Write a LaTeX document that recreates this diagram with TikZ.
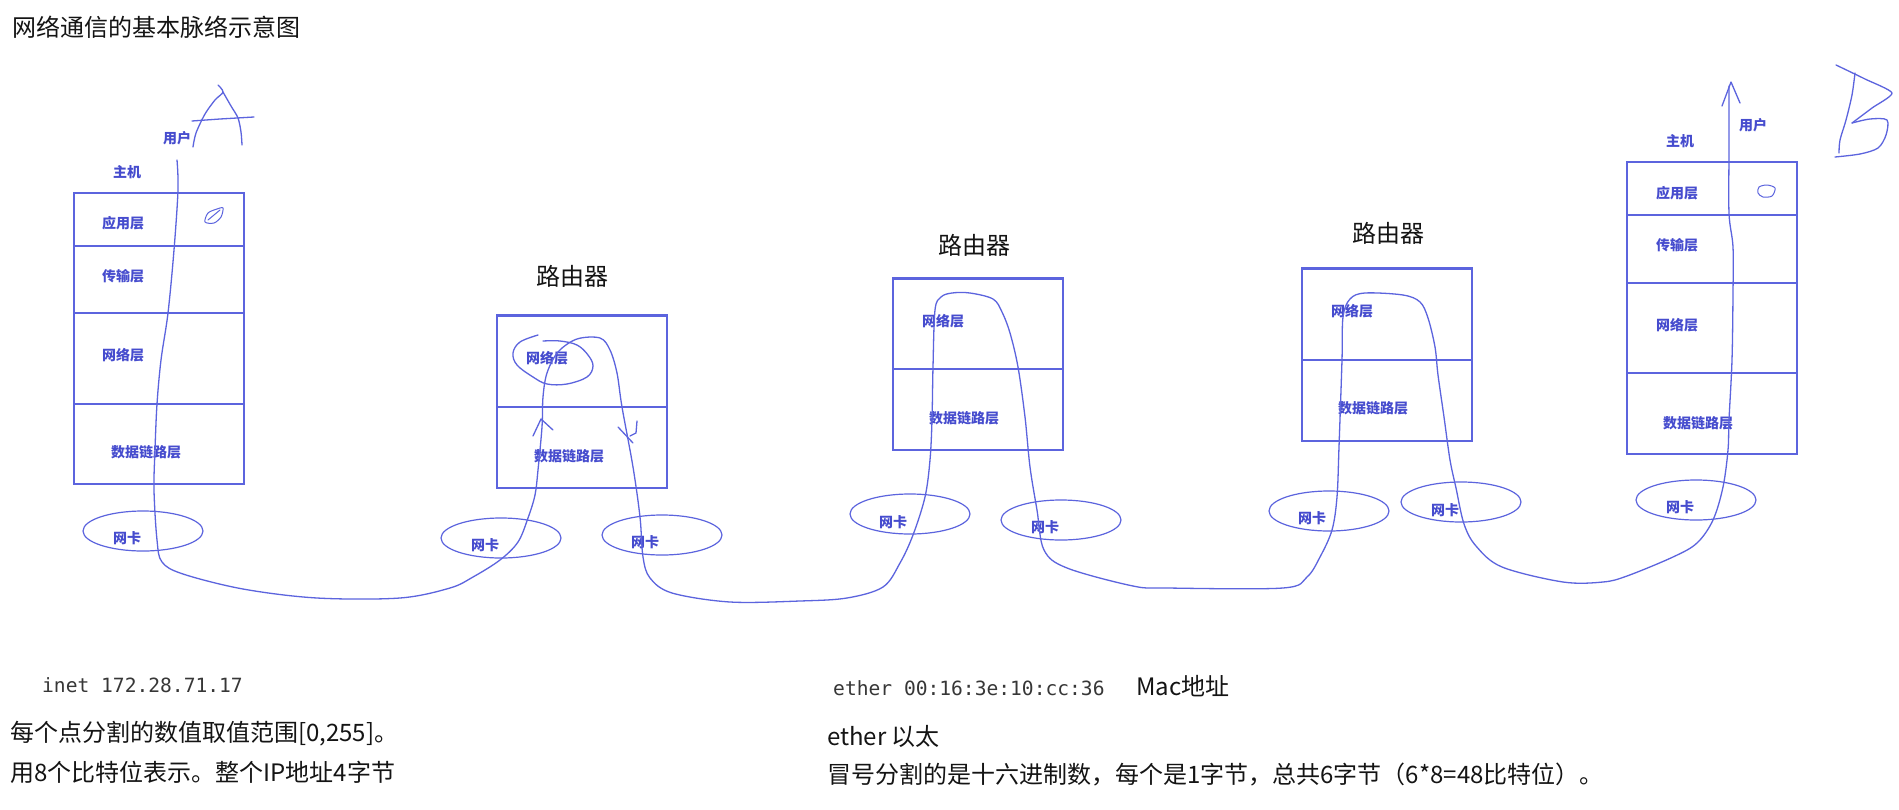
\documentclass[tikz,border=0pt]{standalone}
\usepackage{fontspec}
\setmainfont{Noto Sans CJK SC}
\newfontfamily\monof{DejaVu Sans Mono}
\usetikzlibrary{shapes.geometric}
\definecolor{lineblue}{RGB}{92,100,222}
\definecolor{textblue}{RGB}{70,76,206}
\definecolor{monogray}{RGB}{55,55,55}
\definecolor{inkblack}{RGB}{20,20,20}
\tikzset{
  layer/.style={draw=lineblue, line width=1.3pt, inner sep=0pt, minimum width=170pt},
  thicklayer/.style={layer, line width=2pt},
  nic/.style={draw=lineblue, line width=1.2pt, ellipse, inner sep=0pt, minimum width=120pt, minimum height=40pt},
  lab/.style={text=textblue, font=\fontsize{14}{16}\selectfont\bfseries, inner sep=0pt},
  big/.style={text=inkblack, font=\fontsize{24}{28}\selectfont, inner sep=0pt},
  mono/.style={text=monogray, font=\monof\fontsize{19.6}{22}\selectfont, inner sep=0pt},
  hand/.style={draw=lineblue, line width=1.3pt, line cap=round, line join=round},
}
\begin{document}
\begin{tikzpicture}[x=1pt, y=-1pt]
\useasboundingbox[fill=white] (0,0) rectangle (1899,809);

% title
\node[big, anchor=west] (title) at (12,27) {网络通信的基本脉络示意图};

% ---------- Host A ----------
\node[layer, minimum height=53pt] (Aapp) at (159,219.5) {};
\node[thicklayer, minimum height=67pt] (Atr) at (159,279.5) {};
\node[layer, minimum height=91pt] (Anet) at (159,358.5) {};
\node[layer, minimum height=80pt] (Adl) at (159,444) {};
\node[lab] (Auser) at (177,138) {用户};
\node[lab] (Ahost) at (127,172) {主机};
\node[lab] (Aappl) at (123,223) {应用层};
\node[lab] (Atrl) at (123,276) {传输层};
\node[lab] (Anetl) at (123,355) {网络层};
\node[lab] (Adll) at (146,452) {数据链路层};
\node[nic] (Anic) at (143,531) {};
\node[lab] (Anicl) at (127,538) {网卡};

% ---------- Router 1 ----------
\node[big] (R1t) at (572,276) {路由器};
\node[layer, minimum height=91pt] (R1net) at (582,361.5) {};
\node[layer, minimum height=81pt] (R1dl) at (582,447.5) {};
\draw[draw=lineblue, line width=2pt] (R1net.north west) -- (R1net.north east);
\node[lab] (R1netl) at (547,358) {网络层};
\node[lab] (R1dll) at (569,456) {数据链路层};
\node[nic] (R1a) at (501,538) {};
\node[lab] (R1al) at (485,545) {网卡};
\node[nic] (R1b) at (662,535) {};
\node[lab] (R1bl) at (645,542) {网卡};

% ---------- Router 2 ----------
\node[big] (R2t) at (974,245) {路由器};
\node[layer, minimum height=90pt] (R2net) at (978,324) {};
\node[layer, minimum height=81pt] (R2dl) at (978,409.5) {};
\draw[draw=lineblue, line width=2pt] (R2net.north west) -- (R2net.north east);
\node[lab] (R2netl) at (943,321) {网络层};
\node[lab] (R2dll) at (964,418) {数据链路层};
\node[nic] (R2a) at (910,514) {};
\node[lab] (R2al) at (893,522) {网卡};
\node[nic] (R2b) at (1061,520) {};
\node[lab] (R2bl) at (1045,527) {网卡};

% ---------- Router 3 ----------
\node[big] (R3t) at (1388,233) {路由器};
\node[layer, minimum height=91pt] (R3net) at (1387,314.5) {};
\node[layer, minimum height=81pt] (R3dl) at (1387,400.5) {};
\draw[draw=lineblue, line width=2pt] (R3net.north west) -- (R3net.north east);
\node[lab] (R3netl) at (1352,311) {网络层};
\node[lab] (R3dll) at (1373,408) {数据链路层};
\node[nic] (R3a) at (1329,511) {};
\node[lab] (R3al) at (1312,518) {网卡};
\node[nic] (R3b) at (1461,502) {};
\node[lab] (R3bl) at (1445,510) {网卡};

% ---------- Host B ----------
\node[layer, minimum height=53pt] (Bapp) at (1712,188.5) {};
\node[thicklayer, minimum height=68pt] (Btr) at (1712,249) {};
\node[layer, minimum height=90pt] (Bnet) at (1712,328) {};
\node[layer, minimum height=81pt] (Bdl) at (1712,413.5) {};
\node[lab] (Buser) at (1753,125) {用户};
\node[lab] (Bhost) at (1680,141) {主机};
\node[lab] (Bappl) at (1677,193) {应用层};
\node[lab] (Btrl) at (1677,245) {传输层};
\node[lab] (Bnetl) at (1677,325) {网络层};
\node[lab] (Bdll) at (1698,423) {数据链路层};
\node[nic] (Bnic) at (1696,500) {};
\node[lab] (Bnicl) at (1680,507) {网卡};

% ---------- the hand-drawn data path ----------
\draw[hand] plot[smooth, tension=0.55] coordinates {
 (177,160) (178,190) (174,250) (168,313) (161,360) (157,404) (155,450) (154,490)
 (157,540) (162,562) (183,574) (243,589) (317,598) (400,598) (450,588) (473,577)
 (500,560) (518,542) (528,518) (535,495) (538,470) (542,427) (543,397) (547,373)
 (558,352) (577,339) (600,338) (610,350) (617,373) (622,407) (633,467) (640,517)
 (643,557) (650,578) (672,593) (730,602) (800,601) (847,598) (883,587) (900,563)
 (913,535) (925,497) (930,460) (932,420) (933,367) (935,310) (941,297) (952,293)
 (970,293) (993,299) (1002,312) (1010,333) (1018,367) (1025,417) (1030,467) (1037,510)
 (1044,550) (1067,568) (1133,586) (1167,588) (1283,588) (1307,577) (1320,557) (1332,530)
 (1337,497) (1339,447) (1342,360) (1343,317) (1350,299) (1365,293) (1403,295) (1420,302)
 (1428,318) (1435,347) (1438,375) (1444,417) (1450,460) (1456,488) (1464,524) (1476,546)
 (1502,567) (1563,582) (1603,582) (1627,576) (1673,557) (1697,543) (1713,520) (1723,487)
 (1728,450) (1729,420) (1732,360) (1733,293) (1733,247) (1729,213) (1729,150) (1729,86)
};
\coordinate (Btip) at (1731,82);
\draw[hand] (1722,106) -- (Btip) -- (1740,103);

% loop around router 1 network layer
\draw[hand] plot[smooth, tension=0.6] coordinates {
 (538,335) (520,342) (513,353) (517,365) (533,377) (547,384) (567,384) (587,377)
 (593,366) (588,355) (577,345) (560,341) (543,341)
};
% small direction marks in router 1
\draw[hand] (533,436) -- (541,419) -- (553,430);
\draw[hand] (618,427) -- (633,443);
\draw[hand] (637,421) -- (636,433) -- (630,436);

% handwritten A
\draw[hand] plot[smooth, tension=0.5] coordinates {(193,147) (196,133) (205,114) (215,100) (223,92) (218,85)};
\draw[hand] plot[smooth, tension=0.5] coordinates {(223,92) (231,106) (238,118) (241,132) (242,145)};
\draw[hand] (192,121) -- (220,119) -- (254,117);

% handwritten B
\draw[hand] plot[smooth, tension=0.5] coordinates {(1855,73) (1852,95) (1846,120) (1840,140) (1839,153)};
\draw[hand] plot[smooth, tension=0.4] coordinates {(1836,65) (1865,79) (1892,93) (1872,108) (1852,123)};
\draw[hand] plot[smooth, tension=0.5] coordinates {(1852,123) (1870,119) (1887,120) (1886,135) (1878,148) (1860,154) (1835,157)};

% doodles in application layers
\draw[hand, line width=1pt] plot[smooth cycle, tension=0.5] coordinates {(205,222) (208,213) (217,209) (223,208) (221,217) (214,223)};
\draw[hand, line width=1pt] (208,220) -- (220,210);
\draw[hand, line width=1pt] plot[smooth cycle, tension=0.5] coordinates {(1759,187) (1767,185) (1775,188) (1772,196) (1763,197) (1758,193)};

% ---------- notes below ----------
\node[mono, anchor=west] (inet) at (42,685) {inet 172.28.71.17};
\node[big, anchor=west] (n1) at (10,734) {每个点分割的数值取值范围[0,255]。};
\node[big, anchor=west] (n2) at (10,772) {用8个比特位表示。整个IP地址4字节};
\node[mono, anchor=west] (ether) at (833,688) {ether 00:16:3e:10:cc:36};
\node[big, anchor=west] (mac) at (1136,686) {Mac地址};
\node[big, anchor=west] (n3) at (827,736) {ether 以太};
\node[big, anchor=west] (n4) at (827,775) {冒号分割的是十六进制数，每个是1字节，总共6字节（6*8=48比特位）。};
\end{tikzpicture}
\end{document}
